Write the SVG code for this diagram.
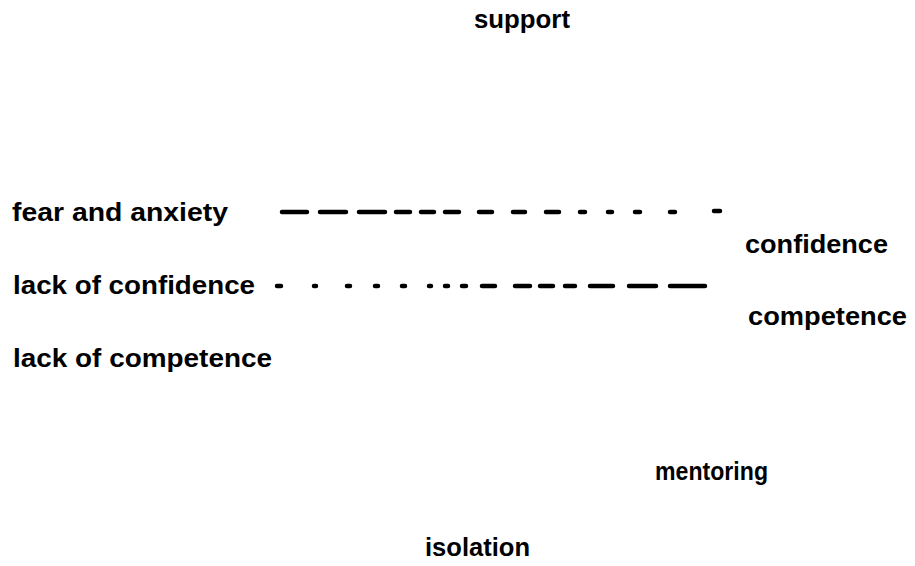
<svg xmlns="http://www.w3.org/2000/svg" width="915" height="566" viewBox="0 0 915 566">
<style>
.t{font-family:"Liberation Sans",Arial,sans-serif;font-weight:bold;font-size:26px;fill:#000}
.d{stroke:#000;stroke-width:4.5;stroke-linecap:round;fill:none}
</style>
<rect width="915" height="566" fill="#fff"/>
<g id="support"><text class="t" x="474" y="28" textLength="96" lengthAdjust="spacingAndGlyphs">support</text></g>
<g id="fear"><text class="t" x="12" y="221" textLength="216" lengthAdjust="spacingAndGlyphs">fear and anxiety</text></g>
<g id="lackconf"><text class="t" x="13" y="294" textLength="242" lengthAdjust="spacingAndGlyphs">lack of confidence</text></g>
<g id="lackcomp"><text class="t" x="13" y="367" textLength="259" lengthAdjust="spacingAndGlyphs">lack of competence</text></g>
<g id="confidence"><text class="t" x="745" y="253" textLength="143" lengthAdjust="spacingAndGlyphs">confidence</text></g>
<g id="competence"><text class="t" x="748" y="325" textLength="159" lengthAdjust="spacingAndGlyphs">competence</text></g>
<g id="mentoring"><text class="t" x="655" y="480" textLength="113" lengthAdjust="spacingAndGlyphs">mentoring</text></g>
<g id="isolation"><text class="t" x="425" y="556" textLength="105" lengthAdjust="spacingAndGlyphs">isolation</text></g>
<g id="connectors">
<path class="d" d="M282 212H307M320 212H346M359 212H385M396 212H410M421 212H434M445 212H459M479 212H492M513 212H525M546 212H559M580 212H585M608 212H612M635 212H640M670 212H675M714 211H720"/>
<path class="d" d="M277 286H281M314 286H316M347 286H350M375 286H378M402 286H405M429 286H431M445 286H448M462 286H466M482 286H495M515 286H530M540 286H553M565 286H575M590 286H613M629 286H656M670 286H705"/>
</g>
</svg>
